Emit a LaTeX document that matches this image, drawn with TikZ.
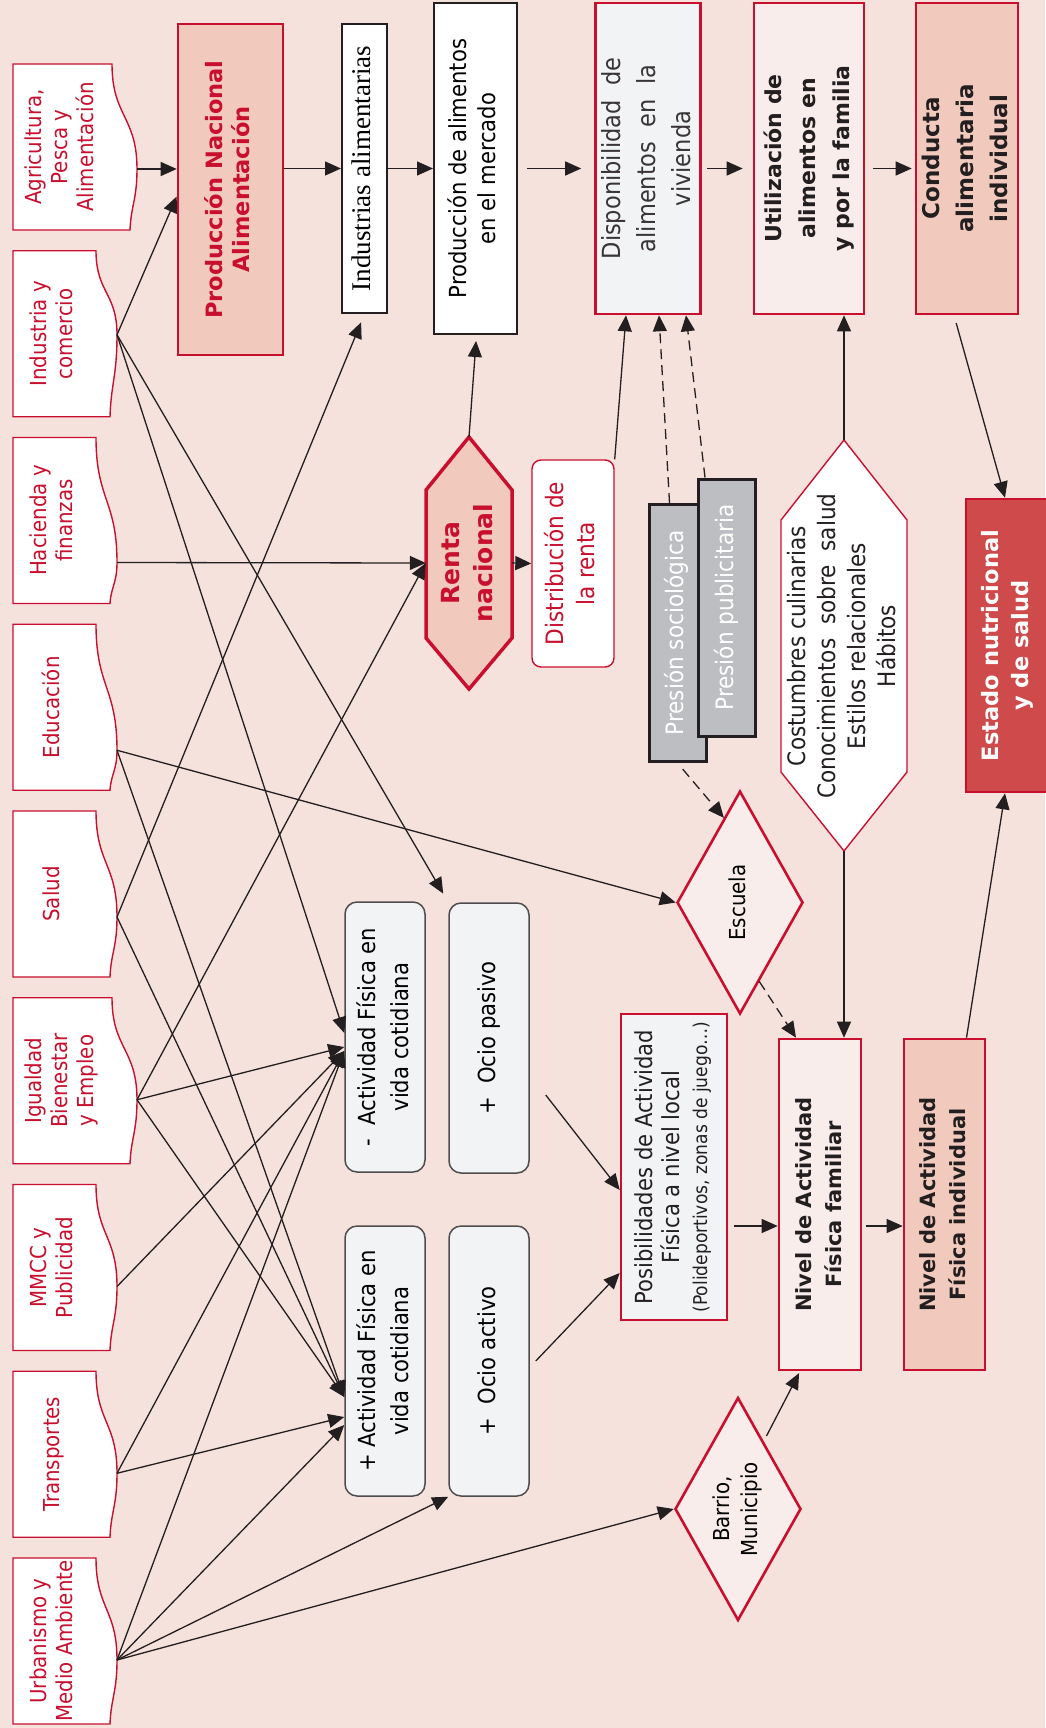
\documentclass[tikz,border=0pt]{standalone}
\usepackage{graphicx}
\usepackage{fontspec}
\setmainfont{DejaVu Sans Condensed}
\newfontfamily\negrita{DejaVu Sans}
\newfontfamily\romana{Liberation Serif}
\usetikzlibrary{arrows.meta,shapes.geometric,calc}

\definecolor{fondo}{HTML}{F6E2DD}
\definecolor{carmin}{HTML}{C8102E}
\definecolor{salmon}{HTML}{F1C9BD}
\definecolor{gris}{HTML}{F2F3F5}
\definecolor{rosa}{HTML}{F9EDEB}
\definecolor{rojo}{HTML}{CE4A4B}
\definecolor{plomo}{HTML}{BDBEC1}
\definecolor{tinta}{HTML}{231F20}

\newcommand{\vt}[1]{\rotatebox{90}{\begin{tabular}{@{}c@{}}#1\end{tabular}}}

\tikzset{
  sectorline/.style={draw=carmin,line width=1.4pt,fill=white},
  sector/.style={inner sep=0pt,text=carmin,font=\fontsize{22}{26}\selectfont},
  caja/.style={draw=carmin,line width=2.6pt,inner sep=0pt,font=\fontsize{23.5}{30}\selectfont},
  negra/.style={draw=tinta,line width=2pt,fill=white,inner sep=0pt,font=\fontsize{23.5}{29}\selectfont},
  titulo/.style n args={2}{font=\negrita\bfseries\fontsize{#1}{#2}\selectfont},
  redondo/.style={draw=tinta!80,line width=1.5pt,fill=gris,rounded corners=12pt,inner sep=0pt,
    minimum width=80pt,minimum height=270pt,font=\fontsize{23.5}{33}\selectfont},
  presion/.style={draw=tinta,line width=3pt,fill=plomo,text=white,inner sep=0pt,
    minimum width=57pt,minimum height=257pt,font=\fontsize{24}{30}\selectfont},
  rombo/.style={diamond,shape aspect=0.565,draw=carmin,line width=2.6pt,fill=rosa,inner sep=0pt,
    minimum width=126pt,minimum height=223pt,font=\fontsize{22}{28}\selectfont},
  flecha/.style={->,draw=tinta,line width=1.3pt},
  discont/.style={flecha,dash pattern=on 10pt off 6pt}
}

\begin{document}
\begin{tikzpicture}[x=1pt,y=-1pt,>={Triangle[length=16pt,width=14pt]}]
\useasboundingbox (0,0) rectangle (1045,1728);
\fill[fondo] (0,0) rectangle (1045,1728);

% sectores
\foreach \nm/\tp/\rx/\bx/\oy/\txt in {
  agri/64/112/25/105/{Agricultura,\\Pesca y\\Alimentación},
  indu/250.75/96/21/84/{Industria y\\comercio},
  haci/437.5/96/21/125/{Hacienda y\\finanzas},
  educ/624.25/96/21/126/{Educación},
  salu/811/96/21/106/{Salud},
  igua/997.75/112/25/102/{Igualdad\\Bienestar\\y Empleo},
  mmcc/1184.5/96/21/102/{MMCC y\\Publicidad},
  tran/1371.25/96/21/102/{Transportes},
  urba/1558/96/21/102/{Urbanismo y\\Medio Ambiente}}
{
  \draw[sectorline] (13,\tp) -- (\rx,\tp)
    .. controls +(0,{0.5*\oy}) and +(0,{-0.5*\oy}) .. (\rx+\bx,\tp+\oy)
    .. controls +(0,{0.5*(166-\oy)}) and +(1,{-0.4*(166-\oy)}) .. (\rx+\bx-7,\tp+166)
    -- (13,\tp+166) -- cycle;
  \node[sector] (\nm) at ({(13+\rx)/2},\tp+83) {\vt{\txt}};
  \coordinate (\nm-o) at (\rx+\bx,\tp+\oy);
}

% cadena alimentaria
\node[caja,fill=salmon,text=carmin,titulo={22.5}{27},minimum width=105pt,minimum height=331pt] (prodnac) at (230.5,189.5) {\vt{Producción Nacional\\Alimentación}};
\node[negra,font=\romana\fontsize{27}{32}\selectfont,minimum width=45pt,minimum height=289pt] (indal) at (364.5,168.5) {\vt{Industrias alimentarias}};
\node[negra,minimum width=83pt,minimum height=331pt] (prodmer) at (475.5,168.5) {\vt{Producción de alimentos\\en el mercado}};
\node[caja,fill=gris,text=tinta!90,font=\fontsize{25}{35}\selectfont,minimum width=102pt,minimum height=311pt] (disp) at (648,158.5) {\vt{Disponibilidad\ \ de\\alimentos\ \ en\ \ la\\vivienda}};
\node[caja,fill=rosa,text=tinta,titulo={22}{34},minimum width=110pt,minimum height=311pt] (util) at (809,158.5) {\vt{Utilización de\\alimentos en\\y por la familia}};
\node[caja,fill=salmon,text=tinta,titulo={23}{34},minimum width=100pt,minimum height=311pt] (cond) at (967,158.5) {\vt{Conducta\\alimentaria\\individual}};

% renta
\draw[draw=carmin,line width=3.5pt,fill=salmon] (426,490) -- (469,437) -- (512,490) -- (512,638) -- (469,689) -- (426,638) -- cycle;
\coordinate (renta-top) at (469,437);
\node[inner sep=0pt,text=carmin,titulo={25}{33},minimum width=86pt,minimum height=148pt] (renta) at (469,563) {\vt{Renta\\nacional}};
\node[draw=carmin,line width=1.4pt,fill=white,rounded corners=9pt,inner sep=0pt,text=carmin,font=\fontsize{24}{31}\selectfont,minimum width=82pt,minimum height=207pt] (dist) at (573,563.5) {\vt{Distribución de\\la renta}};

\node[presion] (psoc) at (677.5,633) {\vt{Presión sociológica}};
\node[presion] (ppub) at (727,607.5) {\vt{Presión publicitaria}};

% costumbres
\draw[draw=carmin,line width=1.4pt,fill=white] (781,520) -- (844,440) -- (907,520) -- (907,772) -- (844,851) -- (781,772) -- cycle;
\coordinate (cost-top) at (844,440);
\coordinate (cost-bot) at (844,851);
\node[inner sep=0pt,text=tinta,font=\fontsize{24}{30}\selectfont,minimum width=126pt,minimum height=252pt] (cost) at (844,646) {\vt{Costumbres culinarias\\Conocimientos\ \ sobre\ \ salud\\Estilos relacionales\\Hábitos}};

\node[caja,fill=rojo,text=white,titulo={22.5}{30},minimum width=82pt,minimum height=293pt] (estado) at (1007,645.5) {\vt{Estado nutricional\\y de salud}};

% actividad fisica
\node[redondo] (actm) at (385,1037) {\vt{-\ \ Actividad Física en\\vida cotidiana}};
\node[redondo] (ociop) at (489,1038) {\vt{+\ \ Ocio pasivo}};
\node[redondo] (actp) at (385,1361) {\vt{+ Actividad Física en\\vida cotidiana}};
\node[redondo] (ocioa) at (489,1361) {\vt{+\ \ Ocio activo}};

\node[caja,fill=gris,text=tinta,font=\fontsize{23.5}{27.5}\selectfont,minimum width=106pt,minimum height=306pt] (posib) at (674,1167) {\vt{Posibilidades de Actividad\\Física a nivel local\\{\fontsize{19}{20}\selectfont (Polideportivos, zonas de juego…)}}};
\node[caja,fill=rosa,text=tinta,titulo={21}{30},minimum width=82pt,minimum height=331pt] (nivfam) at (820,1204.5) {\vt{Nivel de Actividad\\Física familiar}};
\node[caja,fill=salmon,text=tinta,titulo={21}{30},minimum width=81pt,minimum height=331pt] (nivind) at (944.5,1204.5) {\vt{Nivel de Actividad\\Física individual}};

\node[rombo] (escuela) at (740,902.5) {\vt{Escuela}};
\node[rombo] (barrio) at (738,1509) {\vt{Barrio,\\Municipio}};

% flechas de los sectores
\draw[flecha] (agri-o) -- (agri-o -| prodnac.west);
\draw[flecha] (indu-o) -- ([yshift=-7pt]prodnac.west);
\draw[flecha] (indu-o) -- ([yshift=4pt]actm.west);
\draw[flecha,shorten >=10pt] (indu-o) -- (ociop.north west);
\draw[flecha] (haci-o) -- (renta.west);
\draw[flecha] (educ-o) -- (escuela.west);
\draw[flecha] (educ-o) -- ([yshift=-36pt]actp.west);
\draw[flecha,shorten >=9pt] (salu-o) -- (indal.south);
\draw[flecha] (salu-o) -- ([yshift=-36pt]actp.west);
\draw[flecha] (igua-o) -- (renta.west);
\draw[flecha] (igua-o) -- ([yshift=-10pt]actm.west);
\draw[flecha] (igua-o) -- ([yshift=-36pt]actp.west);
\draw[flecha] (mmcc-o) -- ([yshift=-14pt]actm.west);
\draw[flecha] (tran-o) -- ([yshift=-14pt]actm.west);
\draw[flecha] (tran-o) -- ([yshift=-56pt]actp.west);
\draw[flecha] (urba-o) -- ([yshift=-14pt]actm.west);
\draw[flecha] (urba-o) -- ([yshift=-64pt]actp.west);
\draw[flecha] (urba-o) -- (ocioa.south west);
\draw[flecha] (urba-o) -- (barrio.west);

% cadena
\draw[flecha] (prodnac.east |- indal.west) -- (indal.west);
\draw[flecha] (indal.east) -- (indal.east -| prodmer.west);
\draw[flecha,shorten <=9pt,shorten >=13pt] (prodmer.east |- indal.east) -- (disp.west |- indal.east);
\draw[flecha,shorten <=5pt,shorten >=10pt] (disp.east |- indal.east) -- (util.west |- indal.east);
\draw[flecha,shorten <=8pt,shorten >=3pt] (util.east |- indal.east) -- (cond.west |- indal.east);
\draw[flecha,shorten >=6pt] (renta-top) -- ([xshift=1pt]prodmer.south);
\draw[flecha] (renta.east) -- (dist.west);
\draw[flecha] (dist.north east) -- ([xshift=-22pt]disp.south);
\draw[discont] ([xshift=-8pt]psoc.north) -- ([xshift=11pt]disp.south);
\draw[discont] ([xshift=-22pt]ppub.north) -- ([xshift=38pt]disp.south);
\draw[discont,shorten <=8pt] (psoc.south) -- ($(escuela.north)!0.25!(escuela.west)$);
\draw[flecha] (cost-top) -- (cost-top |- util.south);
\draw[flecha] (cost-bot) -- (cost-bot |- nivfam.north);
\draw[flecha,shorten <=8pt] ([xshift=-13pt]cond.south) -- ([xshift=-2pt]estado.north);
\draw[flecha] ([xshift=22pt]nivind.north) -- ([xshift=-2pt]estado.south);

% nivel local
\coordinate (fam-in) at ([yshift=-21.5pt]nivfam.west);
\draw[discont] ($(escuela.east)!0.7!(escuela.south)$) -- ([xshift=-24pt]nivfam.north);
\draw[flecha] ([xshift=16pt,yshift=-57pt]ociop.east) -- ([yshift=-23pt]posib.west);
\draw[flecha] ([xshift=6pt]ocioa.east) -- ([yshift=-106pt]posib.west);
\draw[flecha,shorten <=6pt] (posib.east |- fam-in) -- (fam-in);
\draw[flecha,shorten <=4pt] (nivfam.east |- fam-in) -- (nivind.west |- fam-in);
\draw[flecha,shorten <=6pt,shorten >=2pt] ($(barrio.north)!0.4!(barrio.east)$) -- ([xshift=-20pt]nivfam.south);
\end{tikzpicture}
\end{document}
